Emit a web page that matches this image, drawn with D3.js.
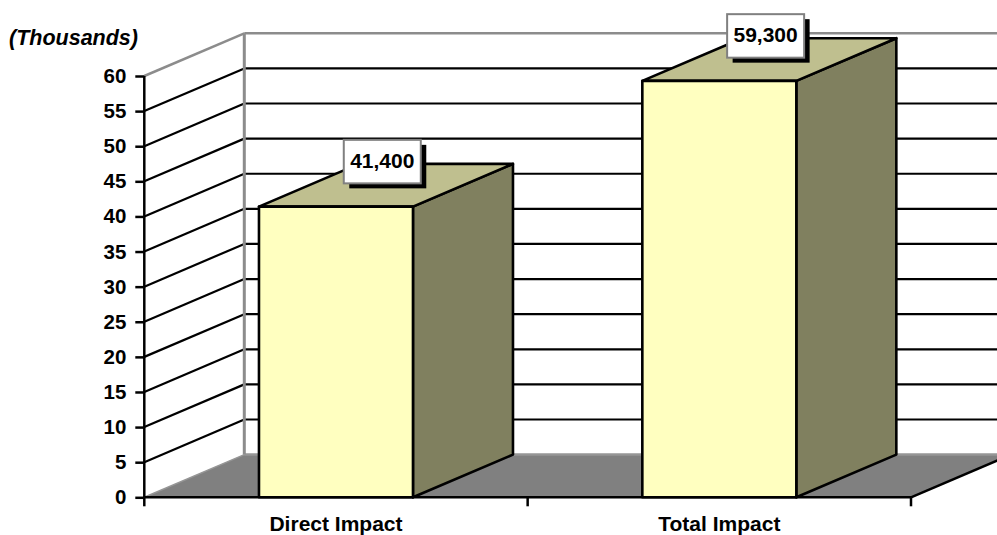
<!DOCTYPE html>
<html>
<head>
<meta charset="utf-8">
<script src="https://cdn.jsdelivr.net/npm/d3@7"></script>
<style>
html,body{margin:0;padding:0;background:#fff;}
svg{display:block;}
text{font-family:"Liberation Sans",Arial,sans-serif;font-weight:bold;fill:#000;}
</style>
</head>
<body>
<svg id="chart" width="997" height="535"></svg>
<script>
const categories = ["Direct Impact", "Total Impact"];
const impactValues = [41400, 59300];
const yTicks = [0,5,10,15,20,25,30,35,40,45,50,55,60];
const unitLabel = "(Thousands)";

const width = 997, height = 535;
const depthX = 100, depthY = -42.7;
const fontStack = '"Liberation Sans",Arial,sans-serif';
const svg = d3.select("#chart");

const y = d3.scaleLinear().domain([0, 60]).range([497.3, 76]);
const x = d3.scaleBand().domain(categories).range([144.3, 911]).paddingInner(0).paddingOuter(0);
const barW = 154;
const barLeft = c => x(c) + (x.bandwidth() - barW) / 2;

const line = (x1, y1, x2, y2, color, w) => svg.append("line")
  .attr("x1", x1).attr("y1", y1).attr("x2", x2).attr("y2", y2)
  .attr("stroke", color).attr("stroke-width", w);

// Floor of the 3-D plot
const x0 = x.range()[0], x1 = x.range()[1], base = y(0);
svg.append("polygon")
  .attr("points", [[x0, base], [x0 + depthX, base + depthY], [x1 + depthX, base + depthY], [x1, base]].join(" "))
  .attr("fill", "#808080");
line(x0 + depthX, base + depthY, width, base + depthY, "#969696", 2.5);
line(x0, base, x0 + depthX, base + depthY, "#969696", 1.5);

// Gridlines across the side wall and back wall
yTicks.filter(t => t > 0).forEach(t => {
  const color = t === 60 ? "#8c8c8c" : "#000";
  const w = t === 60 ? 2.5 : 2.2;
  line(x0, y(t), x0 + depthX, y(t) + depthY, color, w);
  line(x0 + depthX, y(t) + depthY, width, y(t) + depthY, color, w);
});
// Back corner of the walls
line(x0 + depthX, y(60) + depthY, x0 + depthX, base + depthY, "#8c8c8c", 3);

// Right edge of the floor
line(x1, base, x1 + depthX, base + depthY, "#000", 2.5);

// Bars: front, top and side faces
const bars = svg.selectAll("g.bar").data(categories).join("g").attr("class", "bar");
bars.each(function(c, i) {
  const g = d3.select(this), l = barLeft(c), r = l + barW, t = y(impactValues[i] / 1000);
  const face = (pts, fill) => g.append("polygon").attr("points", pts.join(" "))
    .attr("fill", fill).attr("stroke", "#000").attr("stroke-width", 2.6).attr("stroke-linejoin", "round");
  face([[r, t], [r + depthX, t + depthY], [r + depthX, base + depthY], [r, base]], "#80805f");
  face([[l, t], [l + depthX, t + depthY], [r + depthX, t + depthY], [r, t]], "#bfbf8f");
  face([[l, t], [r, t], [r, base], [l, base]], "#ffffc0");
});

// Front axes
const yAxis = d3.axisLeft(y).tickValues(yTicks).tickSize(9).tickPadding(9);
const gy = svg.append("g").attr("transform", `translate(${x0},0)`).call(yAxis);
gy.select(".domain").attr("stroke-width", 2.5).attr("d", `M0,${y(60)}V${base}`);
gy.selectAll(".tick line").attr("stroke-width", 2.5);
gy.selectAll("text").style("font-size", "20.5px").style("font-family", fontStack).style("font-weight", "bold");

const xAxis = d3.axisBottom(x).tickSize(0).tickPadding(18.5);
const gx = svg.append("g").attr("transform", `translate(0,${base})`).call(xAxis);
gx.select(".domain").attr("stroke-width", 2.5).attr("d", `M${x0},0H${x1}`);
gx.selectAll("text").style("font-size", "21px").style("font-family", fontStack).style("font-weight", "bold");
[x0, x0 + x.bandwidth(), x1].forEach(v => line(v, base, v, base + 9, "#000", 2.5));

// Value callouts with a hard drop shadow
const fmt = d3.format(",");
categories.forEach((c, i) => {
  const v = impactValues[i];
  const cx = barLeft(c) + barW / 2 + 46.3, cy = y(v / 1000) - 45;
  const w = 77, h = 43.5;
  svg.append("rect").attr("x", cx - w / 2 + 5.5).attr("y", cy - h / 2 + 5).attr("width", w).attr("height", h).attr("fill", "#000");
  svg.append("rect").attr("x", cx - w / 2).attr("y", cy - h / 2).attr("width", w).attr("height", h)
    .attr("fill", "#fff").attr("stroke", "#808080").attr("stroke-width", 2);
  svg.append("text").attr("x", cx).attr("y", cy + 6).attr("text-anchor", "middle")
    .style("font-size", "21px").text(fmt(v));
});

svg.append("text").attr("x", 9).attr("y", 45).style("font-size", "21.5px").style("font-style", "italic").text(unitLabel);
</script>
</body>
</html>
